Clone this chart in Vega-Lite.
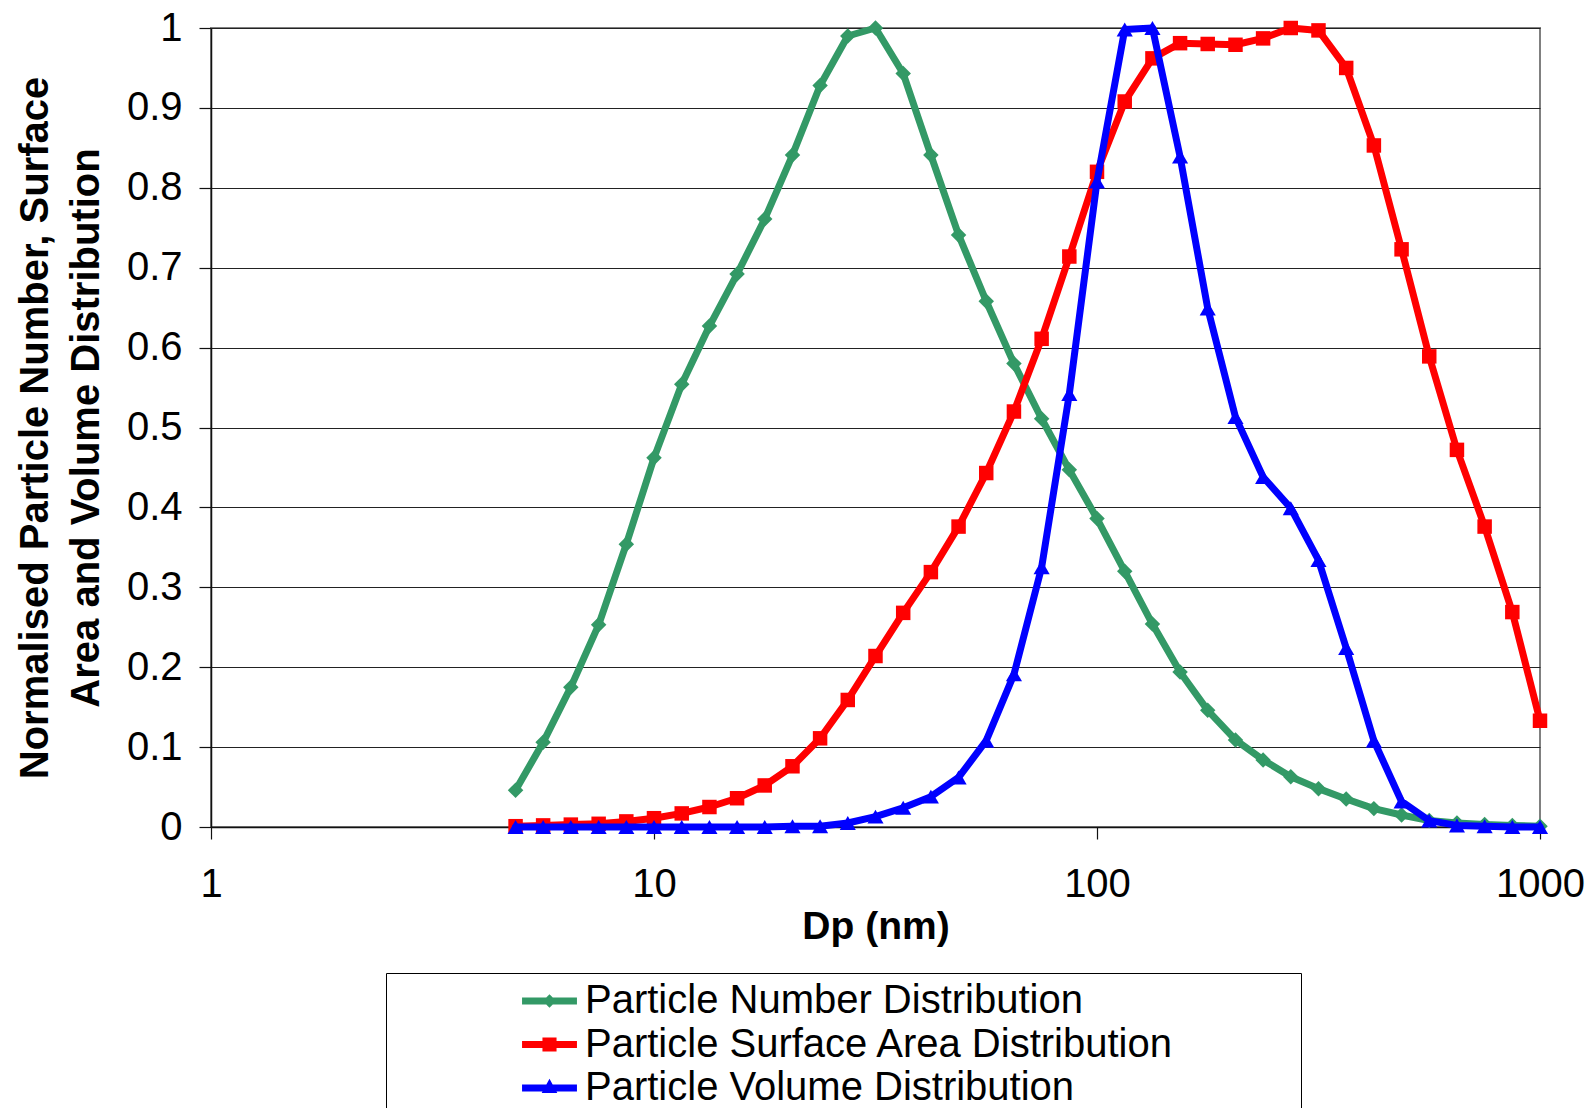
{
  "$schema": "https://vega.github.io/schema/vega-lite/v6.json",
  "width": 1329,
  "height": 799,
  "autosize": {"type": "none"},
  "padding": {"left": 211, "top": 28, "right": 45, "bottom": 281},
  "background": "white",
  "config": {
    "font": "Liberation Sans",
    "view": {"stroke": "#808080", "strokeWidth": 2},
    "axis": {"domainColor": "#111111", "domainWidth": 1.5, "tickColor": "#111111", "tickWidth": 1.2, "labelColor": "#000000", "titleColor": "#000000", "labelFont": "Liberation Sans", "titleFont": "Liberation Sans"}
  },
  "datasets": {
    "psd": [
      {"dp": 4.87, "series": "Particle Number Distribution", "v": 0.046},
      {"dp": 5.62, "series": "Particle Number Distribution", "v": 0.106},
      {"dp": 6.49, "series": "Particle Number Distribution", "v": 0.175},
      {"dp": 7.50, "series": "Particle Number Distribution", "v": 0.253},
      {"dp": 8.66, "series": "Particle Number Distribution", "v": 0.354},
      {"dp": 10.0, "series": "Particle Number Distribution", "v": 0.462},
      {"dp": 11.55, "series": "Particle Number Distribution", "v": 0.554},
      {"dp": 13.34, "series": "Particle Number Distribution", "v": 0.627},
      {"dp": 15.40, "series": "Particle Number Distribution", "v": 0.692},
      {"dp": 17.78, "series": "Particle Number Distribution", "v": 0.761},
      {"dp": 20.54, "series": "Particle Number Distribution", "v": 0.841},
      {"dp": 23.71, "series": "Particle Number Distribution", "v": 0.928},
      {"dp": 27.38, "series": "Particle Number Distribution", "v": 0.990},
      {"dp": 31.62, "series": "Particle Number Distribution", "v": 1.0},
      {"dp": 36.52, "series": "Particle Number Distribution", "v": 0.943},
      {"dp": 42.17, "series": "Particle Number Distribution", "v": 0.841},
      {"dp": 48.70, "series": "Particle Number Distribution", "v": 0.741},
      {"dp": 56.23, "series": "Particle Number Distribution", "v": 0.658},
      {"dp": 64.94, "series": "Particle Number Distribution", "v": 0.580},
      {"dp": 74.99, "series": "Particle Number Distribution", "v": 0.511},
      {"dp": 86.60, "series": "Particle Number Distribution", "v": 0.447},
      {"dp": 100.0, "series": "Particle Number Distribution", "v": 0.386},
      {"dp": 115.5, "series": "Particle Number Distribution", "v": 0.320},
      {"dp": 133.4, "series": "Particle Number Distribution", "v": 0.254},
      {"dp": 154.0, "series": "Particle Number Distribution", "v": 0.194},
      {"dp": 177.8, "series": "Particle Number Distribution", "v": 0.146},
      {"dp": 205.4, "series": "Particle Number Distribution", "v": 0.109},
      {"dp": 237.1, "series": "Particle Number Distribution", "v": 0.084},
      {"dp": 273.8, "series": "Particle Number Distribution", "v": 0.063},
      {"dp": 316.2, "series": "Particle Number Distribution", "v": 0.048},
      {"dp": 365.2, "series": "Particle Number Distribution", "v": 0.035},
      {"dp": 421.7, "series": "Particle Number Distribution", "v": 0.023},
      {"dp": 487.0, "series": "Particle Number Distribution", "v": 0.015},
      {"dp": 562.3, "series": "Particle Number Distribution", "v": 0.008},
      {"dp": 649.4, "series": "Particle Number Distribution", "v": 0.005},
      {"dp": 749.9, "series": "Particle Number Distribution", "v": 0.003},
      {"dp": 866.0, "series": "Particle Number Distribution", "v": 0.002},
      {"dp": 1000.0, "series": "Particle Number Distribution", "v": 0.001},
      {"dp": 4.87, "series": "Particle Surface Area Distribution", "v": 0.001},
      {"dp": 5.62, "series": "Particle Surface Area Distribution", "v": 0.002},
      {"dp": 6.49, "series": "Particle Surface Area Distribution", "v": 0.003},
      {"dp": 7.50, "series": "Particle Surface Area Distribution", "v": 0.004},
      {"dp": 8.66, "series": "Particle Surface Area Distribution", "v": 0.007},
      {"dp": 10.0, "series": "Particle Surface Area Distribution", "v": 0.011},
      {"dp": 11.55, "series": "Particle Surface Area Distribution", "v": 0.017},
      {"dp": 13.34, "series": "Particle Surface Area Distribution", "v": 0.025},
      {"dp": 15.40, "series": "Particle Surface Area Distribution", "v": 0.036},
      {"dp": 17.78, "series": "Particle Surface Area Distribution", "v": 0.052},
      {"dp": 20.54, "series": "Particle Surface Area Distribution", "v": 0.076},
      {"dp": 23.71, "series": "Particle Surface Area Distribution", "v": 0.111},
      {"dp": 27.38, "series": "Particle Surface Area Distribution", "v": 0.159},
      {"dp": 31.62, "series": "Particle Surface Area Distribution", "v": 0.214},
      {"dp": 36.52, "series": "Particle Surface Area Distribution", "v": 0.268},
      {"dp": 42.17, "series": "Particle Surface Area Distribution", "v": 0.319},
      {"dp": 48.70, "series": "Particle Surface Area Distribution", "v": 0.376},
      {"dp": 56.23, "series": "Particle Surface Area Distribution", "v": 0.443},
      {"dp": 64.94, "series": "Particle Surface Area Distribution", "v": 0.520},
      {"dp": 74.99, "series": "Particle Surface Area Distribution", "v": 0.611},
      {"dp": 86.60, "series": "Particle Surface Area Distribution", "v": 0.714},
      {"dp": 100.0, "series": "Particle Surface Area Distribution", "v": 0.820},
      {"dp": 115.5, "series": "Particle Surface Area Distribution", "v": 0.908},
      {"dp": 133.4, "series": "Particle Surface Area Distribution", "v": 0.962},
      {"dp": 154.0, "series": "Particle Surface Area Distribution", "v": 0.981},
      {"dp": 177.8, "series": "Particle Surface Area Distribution", "v": 0.980},
      {"dp": 205.4, "series": "Particle Surface Area Distribution", "v": 0.979},
      {"dp": 237.1, "series": "Particle Surface Area Distribution", "v": 0.987},
      {"dp": 273.8, "series": "Particle Surface Area Distribution", "v": 1.0},
      {"dp": 316.2, "series": "Particle Surface Area Distribution", "v": 0.997},
      {"dp": 365.2, "series": "Particle Surface Area Distribution", "v": 0.950},
      {"dp": 421.7, "series": "Particle Surface Area Distribution", "v": 0.853},
      {"dp": 487.0, "series": "Particle Surface Area Distribution", "v": 0.723},
      {"dp": 562.3, "series": "Particle Surface Area Distribution", "v": 0.589},
      {"dp": 649.4, "series": "Particle Surface Area Distribution", "v": 0.472},
      {"dp": 749.9, "series": "Particle Surface Area Distribution", "v": 0.376},
      {"dp": 866.0, "series": "Particle Surface Area Distribution", "v": 0.269},
      {"dp": 1000.0, "series": "Particle Surface Area Distribution", "v": 0.133},
      {"dp": 4.87, "series": "Particle Volume Distribution", "v": 0.0},
      {"dp": 5.62, "series": "Particle Volume Distribution", "v": 0.0},
      {"dp": 6.49, "series": "Particle Volume Distribution", "v": 0.0},
      {"dp": 7.50, "series": "Particle Volume Distribution", "v": 0.0},
      {"dp": 8.66, "series": "Particle Volume Distribution", "v": 0.0},
      {"dp": 10.0, "series": "Particle Volume Distribution", "v": 0.0},
      {"dp": 11.55, "series": "Particle Volume Distribution", "v": 0.0},
      {"dp": 13.34, "series": "Particle Volume Distribution", "v": 0.0},
      {"dp": 15.40, "series": "Particle Volume Distribution", "v": 0.0},
      {"dp": 17.78, "series": "Particle Volume Distribution", "v": 0.0},
      {"dp": 20.54, "series": "Particle Volume Distribution", "v": 0.001},
      {"dp": 23.71, "series": "Particle Volume Distribution", "v": 0.001},
      {"dp": 27.38, "series": "Particle Volume Distribution", "v": 0.005},
      {"dp": 31.62, "series": "Particle Volume Distribution", "v": 0.013},
      {"dp": 36.52, "series": "Particle Volume Distribution", "v": 0.024},
      {"dp": 42.17, "series": "Particle Volume Distribution", "v": 0.038},
      {"dp": 48.70, "series": "Particle Volume Distribution", "v": 0.062},
      {"dp": 56.23, "series": "Particle Volume Distribution", "v": 0.108},
      {"dp": 64.94, "series": "Particle Volume Distribution", "v": 0.191},
      {"dp": 74.99, "series": "Particle Volume Distribution", "v": 0.325},
      {"dp": 86.60, "series": "Particle Volume Distribution", "v": 0.542},
      {"dp": 100.0, "series": "Particle Volume Distribution", "v": 0.808},
      {"dp": 115.5, "series": "Particle Volume Distribution", "v": 0.998},
      {"dp": 133.4, "series": "Particle Volume Distribution", "v": 1.0},
      {"dp": 154.0, "series": "Particle Volume Distribution", "v": 0.839},
      {"dp": 177.8, "series": "Particle Volume Distribution", "v": 0.649},
      {"dp": 205.4, "series": "Particle Volume Distribution", "v": 0.513},
      {"dp": 237.1, "series": "Particle Volume Distribution", "v": 0.438},
      {"dp": 273.8, "series": "Particle Volume Distribution", "v": 0.399},
      {"dp": 316.2, "series": "Particle Volume Distribution", "v": 0.334},
      {"dp": 365.2, "series": "Particle Volume Distribution", "v": 0.224},
      {"dp": 421.7, "series": "Particle Volume Distribution", "v": 0.108},
      {"dp": 487.0, "series": "Particle Volume Distribution", "v": 0.032},
      {"dp": 562.3, "series": "Particle Volume Distribution", "v": 0.008},
      {"dp": 649.4, "series": "Particle Volume Distribution", "v": 0.002},
      {"dp": 749.9, "series": "Particle Volume Distribution", "v": 0.001},
      {"dp": 866.0, "series": "Particle Volume Distribution", "v": 0.0},
      {"dp": 1000.0, "series": "Particle Volume Distribution", "v": 0.0}
    ]
  },
  "data": {"name": "psd"},
  "encoding": {
    "x": {
      "field": "dp",
      "type": "quantitative",
      "scale": {"type": "log", "domain": [1, 1000], "nice": false},
      "axis": {
        "values": [1, 10, 100, 1000],
        "format": "d",
        "grid": false,
        "tickSize": 12,
        "labelFontSize": 40,
        "labelPadding": 25,
        "labelFlush": false,
        "labelOverlap": false,
        "title": "Dp (nm)",
        "titleFontSize": 39,
        "titleFontWeight": "bold",
        "titleY": 99,
        "titleBaseline": "middle"
      }
    },
    "y": {
      "field": "v",
      "type": "quantitative",
      "scale": {"domain": [0, 1], "nice": false, "zero": true},
      "axis": {
        "values": [0, 0.1, 0.2, 0.3, 0.4, 0.5, 0.6, 0.7, 0.8, 0.9, 1],
        "format": ".1~f",
        "grid": true,
        "gridColor": "#222222",
        "gridWidth": 1,
        "tickSize": 12,
        "labelFontSize": 40,
        "labelPadding": 17,
        "labelFlush": false,
        "labelOverlap": false,
        "title": ["Normalised Particle Number, Surface", "Area and Volume Distribution"],
        "titleFontSize": 40,
        "titleFontWeight": "bold",
        "titleAngle": -90,
        "titleX": -176,
        "titleY": 399.5,
        "titleAlign": "center",
        "titleBaseline": "middle",
        "titleLineHeight": 51
      }
    },
    "color": {
      "field": "series",
      "type": "nominal",
      "scale": {
        "domain": ["Particle Number Distribution", "Particle Surface Area Distribution", "Particle Volume Distribution"],
        "range": ["#339966", "#FF0000", "#0000FF"]
      },
      "legend": {
        "title": " ",
        "titleOrient": "right",
        "titlePadding": 119,
        "titleFontSize": 10,
        "orient": "none",
        "legendX": 175,
        "legendY": 945,
        "direction": "vertical",
        "padding": 8,
        "strokeColor": "#000000",
        "fillColor": "#ffffff",
        "symbolSize": 900,
        "symbolStrokeWidth": 0,
        "symbolOffset": 135.5,
        "labelOffset": 15.5,
        "labelFontSize": 40,
        "labelFont": "Liberation Sans",
        "labelColor": "#000000",
        "labelLimit": 2000,
        "rowPadding": 3.5,
        "encode": {
          "symbols": {
            "update": {
              "shape": {"signal": "datum.value === 'Particle Number Distribution' ? 'M-1.83,-0.23L1.83,-0.23L1.83,0.23L-1.83,0.23ZM0,-0.45L0.45,0L0,0.45L-0.45,0Z' : datum.value === 'Particle Surface Area Distribution' ? 'M-1.83,-0.23L1.83,-0.23L1.83,0.23L-1.83,0.23ZM-0.47,-0.47L0.47,-0.47L0.47,0.47L-0.47,0.47Z' : 'M-1.83,-0.23L1.83,-0.23L1.83,0.23L-1.83,0.23ZM0,-0.62L0.52,0.34L-0.52,0.34Z'"},
              "fill": {"scale": "color", "field": "value"},
              "fillOpacity": {"value": 1},
              "stroke": {"value": "transparent"},
              "strokeWidth": {"value": 0}
            }
          }
        }
      }
    }
  },
  "layer": [
    {
      "transform": [{"filter": {"field": "series", "equal": "Particle Number Distribution"}}],
      "mark": {"type": "line", "strokeWidth": 7, "strokeJoin": "round", "strokeCap": "round", "point": {"shape": "diamond", "size": 240, "filled": true}}
    },
    {
      "transform": [{"filter": {"field": "series", "equal": "Particle Surface Area Distribution"}}],
      "mark": {"type": "line", "strokeWidth": 7, "strokeJoin": "round", "strokeCap": "round", "point": {"shape": "square", "size": 210, "filled": true}}
    },
    {
      "transform": [{"filter": {"field": "series", "equal": "Particle Volume Distribution"}}],
      "mark": {"type": "line", "strokeWidth": 7, "strokeJoin": "round", "strokeCap": "round", "point": {"shape": "triangle-up", "size": 260, "filled": true}}
    }
  ]
}
